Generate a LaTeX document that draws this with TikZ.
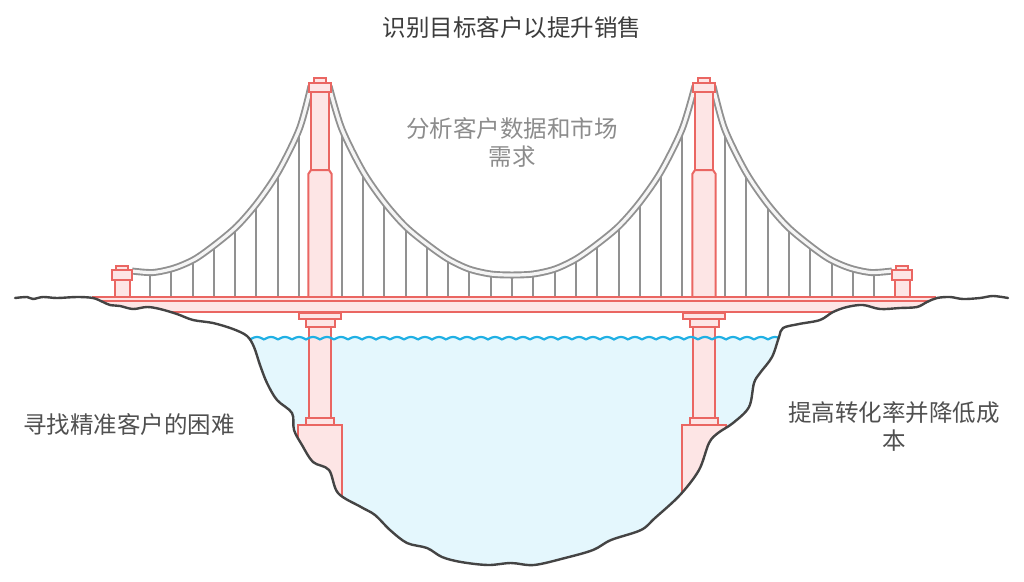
\documentclass[tikz,border=0pt]{standalone}
\usepackage{fontspec}
\setmainfont{Noto Sans CJK SC}
\definecolor{towerred}{RGB}{234,102,98}
\definecolor{towerpink}{RGB}{253,229,229}
\definecolor{cablegray}{RGB}{145,145,145}
\definecolor{waterblue}{RGB}{228,247,253}
\definecolor{wavecolor}{RGB}{32,176,228}
\definecolor{groundgray}{RGB}{68,68,68}
\definecolor{titlegray}{RGB}{60,60,60}
\definecolor{labelgray}{RGB}{80,80,80}
\definecolor{softgray}{RGB}{140,140,140}

\newcommand\groundline{plot[smooth,tension=0.55] coordinates {(15,298) (27,297) (33,299) (43,297) (57,298) (77,297) (93,298) (103,302) (110,305) (120,306) (133,309) (147,307) (160,309) (177,314) (193,320) (213,323) (233,329) (247,336) (254,347) (260,365) (267,383) (277,400) (292,413) (294,430) (302,445) (313,462) (329,470) (338,493) (361,507) (375,515) (390,530) (407,543) (427,548) (442,557) (461,562) (488,565) (511,563) (534,565) (565,558) (593,550) (611,540) (641,530) (655,518) (680,495) (699,470) (709,443) (718,433) (733,423) (749,407) (754,383) (760,373) (772,357) (779,337) (783,328) (799,324) (820,320) (833,312) (847,307) (863,305) (880,309) (900,308) (917,307) (927,302) (937,298) (950,297) (963,299) (980,298) (993,296) (1008,298)}}
\newcommand\maincable{plot[smooth] coordinates {(329,86) (341.7,128.5) (362.7,171) (384,202) (405,226) (426.7,244) (448,259) (469,269) (490.7,274) (512,275) (533.3,274) (555,269) (576,259) (597.3,244) (619,226) (640,202) (661.3,171) (682.3,128.5) (695,86)}}
\newcommand\leftcable{plot[smooth] coordinates {(311,86) (299.5,128.5) (278.8,171) (257.9,202) (237.2,226) (215.9,244) (194.9,259) (174.3,268) (152.9,272.5) (132,271)}}
\newcommand\rightcable{plot[smooth] coordinates {(713,86) (724.5,128.5) (745.2,171) (766.1,202) (786.8,226) (808.1,244) (829.1,259) (849.7,268) (871.1,272.5) (892,271)}}

\begin{document}
\begin{tikzpicture}[x=1pt,y=-1pt,
  pinkpart/.style={draw=towerred,fill=towerpink,line width=2pt},
  hanger/.style={draw=cablegray,line width=2pt},
  cable/.style={draw=cablegray,line width=1.9pt,double=gray!8,double distance=3.2pt},
  notetext/.style={font=\fontsize{23.5}{28}\selectfont,align=center}]
  \useasboundingbox (0,0) rectangle (1024,581);

  % water
  \fill[waterblue] (250,338) rectangle (780,570);

  % hangers
  \begin{scope}
    \clip \maincable -- (695,297) -- (329,297) -- cycle;
    \foreach \n in {-8,...,8}
      \draw[hanger] ({512+21.3*\n},60) -- ({512+21.3*\n},297);
  \end{scope}
  \begin{scope}
    \clip \leftcable -- (132,297) -- (311,297) -- cycle;
    \foreach \n in {10,...,17}
      \draw[hanger] ({512-21.3*\n},60) -- ({512-21.3*\n},297);
  \end{scope}
  \begin{scope}
    \clip \rightcable -- (892,297) -- (713,297) -- cycle;
    \foreach \n in {10,...,17}
      \draw[hanger] ({512+21.3*\n},60) -- ({512+21.3*\n},297);
  \end{scope}

  % cables
  \draw[cable] \maincable;
  \draw[cable] \leftcable;
  \draw[cable] \rightcable;

  % anchor pillars
  \foreach \cx in {122,902} {
    \draw[pinkpart] (\cx-7.5,280) rectangle (\cx+7.5,300);
    \draw[pinkpart] (\cx-10,270) rectangle (\cx+10,280);
    \draw[pinkpart] (\cx-6,266) rectangle (\cx+6,270);
  }

  % towers and piers
  \foreach \cx in {320,704} {
    \draw[pinkpart] (\cx-11.7,300) -- (\cx-11.7,174) -- (\cx-9,170) -- (\cx+9,170) -- (\cx+11.7,174) -- (\cx+11.7,300) -- cycle;
    \draw[pinkpart] (\cx-9,92) rectangle (\cx+9,170);
    \draw[pinkpart] (\cx-11.3,83) rectangle (\cx+11.3,92);
    \draw[pinkpart] (\cx-5.8,78) rectangle (\cx+5.8,83);
    \draw[pinkpart] (\cx-11.2,326.7) rectangle (\cx+11.2,418.3);
    \draw[pinkpart] (\cx-21,312.7) rectangle (\cx+21,319.3);
    \draw[pinkpart] (\cx-14.5,319.3) rectangle (\cx+14.5,326.7);
    \draw[pinkpart] (\cx-14.3,418.3) rectangle (\cx+14.3,425);
    \draw[pinkpart] (\cx-21.7,425) rectangle (\cx+21.7,515);
  }

  % deck
  \draw[pinkpart] (93,297) rectangle (935,312);
  \draw[towerred,line width=2pt] (93,300.5) -- (935,300.5);

  % waves
  \draw[wavecolor,line width=2.2pt] plot[domain=250:778,samples=500] (\x,{339.5-2.5*abs(sin(12.857*(\x-250)))});

  % ground
  \fill[white] \groundline -- (1008,590) -- (15,590) -- cycle;
  \draw[groundgray,line width=2.4pt,line cap=round,line join=round] \groundline;

  % texts
  \node[notetext,text=titlegray] (title) at (512,28) {识别目标客户以提升销售};
  \node[notetext,text=softgray] (analysis) at (512,142) {分析客户数据和市场\\需求};
  \node[notetext,text=labelgray] (difficulty) at (129,425) {寻找精准客户的困难};
  \node[notetext,text=labelgray] (goal) at (894,426) {提高转化率并降低成\\本};
\end{tikzpicture}
\end{document}
